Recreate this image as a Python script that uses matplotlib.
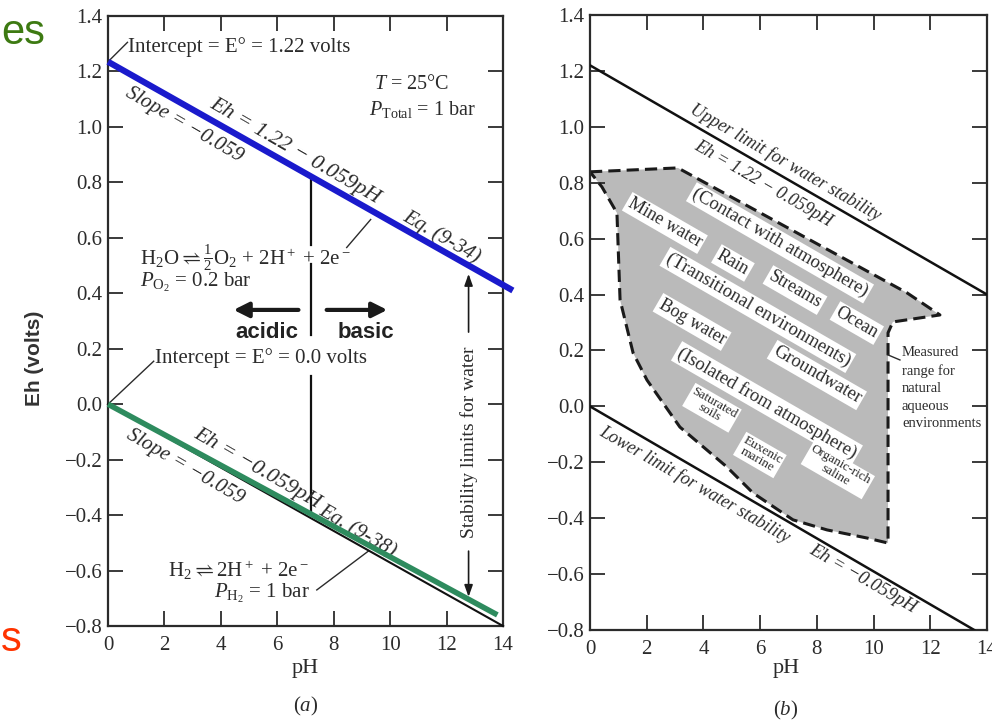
import matplotlib
matplotlib.use('Agg')
import matplotlib.pyplot as plt

plt.rcParams['font.family'] = 'Liberation Serif'
plt.rcParams['mathtext.fontset'] = 'custom'
plt.rcParams['mathtext.rm'] = 'Liberation Serif'
plt.rcParams['mathtext.it'] = 'Liberation Serif:italic'
plt.rcParams['mathtext.bf'] = 'Liberation Serif:bold'

ink = '#2b2b2b'

# ticks shared by both panels
ph_ticks = [0, 2, 4, 6, 8, 10, 12, 14]
eh_ticks = [-0.8, -0.6, -0.4, -0.2, 0.0, 0.2, 0.4, 0.6, 0.8, 1.0, 1.2, 1.4]
eh_labels = ['\u22120.8', '\u22120.6', '\u22120.4', '\u22120.2', '0.0', '0.2',
             '0.4', '0.6', '0.8', '1.0', '1.2', '1.4']

# panel (a): water stability lines
o2_ph = [0, 14.35]
o2_eh = [1.235, 0.41]
h2_ph = [0, 14]
h2_eh = [0.0, -0.80]
h2_green_ph = [0, 13.8]
h2_green_eh = [0.0, -0.76]
neutral_ph = 7.2
neutral_top = [0.81, 0.505, 0.10]
neutral_bot = [0.575, 0.25, -0.40]
stab_ph = 12.78

# panel (b): limits and measured natural range
upper_ph = [0, 14]
upper_eh = [1.22, 0.40]
lower_ph = [0, 13.55]
lower_eh = [0.0, -0.80]
nat_ph = [0.0, 3.10, 11.18, 12.34, 10.68, 10.51, 10.51, 9.77, 8.36, 7.16, 5.75,
          4.83, 3.17, 2.01, 1.52, 1.06, 0.95, 0.42, 0.0]
nat_eh = [0.839, 0.853, 0.406, 0.327, 0.302, 0.263, -0.489, -0.471, -0.442, -0.406,
          -0.310, -0.217, -0.074, 0.094, 0.191, 0.381, 0.692, 0.785, 0.839]

env_labels = ['(Contact with atmosphere)', 'Mine water', 'Rain', 'Streams', 'Ocean',
              '(Transitional environments)', 'Bog water', 'Groundwater',
              '(Isolated from atmosphere)', 'Saturated\nsoils', 'Euxenic\nmarine',
              'Organic-rich\nsaline']
env_ph = [6.70, 2.64, 5.04, 7.23, 9.41, 5.92, 3.60, 8.00, 6.24, 4.30, 5.99, 8.74]
env_eh = [0.585, 0.656, 0.513, 0.416, 0.298, 0.345, 0.302, 0.112, 0.012, -0.005, -0.174, -0.228]
env_size = [13.5, 13, 13, 13, 13, 13.5, 13, 13.5, 13.5, 9.5, 9.5, 9.5]

fig = plt.figure(figsize=(9.92, 7.23), dpi=100)
ax1 = fig.add_axes([108 / 992, 1 - 626 / 723, 395 / 992, 610 / 723])
ax2 = fig.add_axes([590 / 992, 1 - 630 / 723, 397 / 992, 615 / 723])

for ax in (ax1, ax2):
    ax.set_xlim(0, 14)
    ax.set_ylim(-0.8, 1.4)
    ax.set_xticks(ph_ticks)
    ax.set_xticklabels([str(t) for t in ph_ticks])
    ax.set_yticks(eh_ticks)
    ax.set_yticklabels(eh_labels)
    ax.tick_params(direction='in', length=11, width=1.3, top=True, right=True,
                   labelsize=15, colors=ink)
    ax.tick_params(axis='x', pad=7)
    ax.tick_params(axis='y', pad=4)
    for s in ax.spines.values():
        s.set_linewidth(1.6)
        s.set_color(ink)

# ---- panel (a)
ax1.plot(h2_ph, h2_eh, color='#111111', lw=1.5, clip_on=False, zorder=3)
ax1.plot(h2_green_ph, h2_green_eh, color='#2e8b5e', lw=4, clip_on=False, zorder=4,
         solid_capstyle='butt')
ax1.plot(o2_ph, o2_eh, color='#1a1acc', lw=4.5, clip_on=False, zorder=4,
         solid_capstyle='butt')
for top, bot in zip(neutral_top, neutral_bot):
    ax1.plot([neutral_ph, neutral_ph], [top, bot], color='#111111', lw=1.6)

arrow_kw = dict(arrowstyle='-|>,head_length=0.9,head_width=0.45', lw=3,
                color='#1a1a1a', shrinkA=0, shrinkB=0)
ax1.annotate('', xy=(4.45, 0.34), xytext=(6.75, 0.34), arrowprops=arrow_kw)
ax1.annotate('', xy=(9.9, 0.34), xytext=(7.75, 0.34), arrowprops=arrow_kw)
ax1.text(5.62, 0.258, 'acidic', family='Liberation Sans', weight='bold', fontsize=16,
         color='#222222', ha='center', va='center')
ax1.text(9.15, 0.258, 'basic', family='Liberation Sans', weight='bold', fontsize=16,
         color='#222222', ha='center', va='center')

lead = dict(color=ink, lw=1.0)
ax1.plot([0, 0.69], [1.235, 1.305], **lead)
ax1.text(0.72, 1.287, 'Intercept = E\u00b0 = 1.22 volts', fontsize=15, color=ink,
         ha='left', va='center')
ax1.text(9.42, 1.153, '$T$ = 25\u00b0C', fontsize=14.5, color=ink, ha='left', va='center')
ax1.text(9.24, 1.063, r'$P_{\mathrm{Total}}$ = 1 bar', fontsize=14.5, color=ink,
         ha='left', va='center')
ax1.text(2.71, 1.009, 'Slope = \u22120.059', style='italic', fontsize=15, color=ink,
         rotation=-30, rotation_mode='anchor', ha='center', va='center')
ax1.text(6.63, 0.911, 'Eh = 1.22 \u2212 0.059pH', style='italic', fontsize=16, color=ink,
         rotation=-30, rotation_mode='anchor', ha='center', va='center')
ax1.text(11.82, 0.604, 'Eq. (9-34)', style='italic', fontsize=15, color=ink,
         rotation=-30, rotation_mode='anchor', ha='center', va='center')
ax1.plot([9.31, 8.46], [0.666, 0.565], **lead)
ax1.text(1.12, 0.528, r'H$_2$O$\rightleftharpoons\frac{1}{2}$O$_2$ + 2H$^+$ + 2e$^-$',
         fontsize=15, color=ink, ha='left', va='center')
ax1.text(1.12, 0.438, r'$P_{\mathrm{O_2}}$ = 0.2 bar', fontsize=15, color=ink,
         ha='left', va='center')

ax1.plot([0, 1.62], [0.0, 0.155], **lead)
ax1.text(1.66, 0.1675, 'Intercept = E\u00b0 = 0.0 volts', fontsize=15, color=ink,
         ha='left', va='center')
ax1.text(5.30, -0.234, 'Eh = \u22120.059pH', style='italic', fontsize=16, color=ink,
         rotation=-30, rotation_mode='anchor', ha='center', va='center')
ax1.text(2.75, -0.226, 'Slope = \u22120.059', style='italic', fontsize=15, color=ink,
         rotation=-30, rotation_mode='anchor', ha='center', va='center')
ax1.text(8.85, -0.456, 'Eq. (9-38)', style='italic', fontsize=15, color=ink,
         rotation=-30, rotation_mode='anchor', ha='center', va='center')
ax1.plot([9.24, 7.40], [-0.529, -0.67], **lead)
ax1.text(2.11, -0.598, r'H$_2$$\rightleftharpoons$2H$^+$ + 2e$^-$', fontsize=15,
         color=ink, ha='left', va='center')
ax1.text(3.77, -0.681, r'$P_{\mathrm{H_2}}$ = 1 bar', fontsize=15, color=ink,
         ha='left', va='center')

ax1.text(stab_ph, -0.136, 'Stability limits for water', fontsize=14, color=ink,
         rotation=90, ha='center', va='center')
thin_arrow = dict(arrowstyle='-|>,head_length=0.7,head_width=0.25', lw=1.2,
                  color='#1a1a1a', shrinkA=0, shrinkB=0)
ax1.annotate('', xy=(stab_ph, 0.47), xytext=(stab_ph, 0.26), arrowprops=thin_arrow)
ax1.annotate('', xy=(stab_ph, -0.695), xytext=(stab_ph, -0.53), arrowprops=thin_arrow)

# ---- panel (b)
ax2.fill(nat_ph, nat_eh, facecolor='#bababa', edgecolor='none', zorder=1)
ax2.plot(nat_ph, nat_eh, color='#1a1a1a', lw=2.2, ls=(0, (4, 2)), zorder=2)
ax2.plot(upper_ph, upper_eh, color='#111111', lw=1.8, zorder=3)
ax2.plot(lower_ph, lower_eh, color='#111111', lw=1.8, zorder=3)

ax2.text(6.88, 0.871, 'Upper limit for water stability', style='italic', fontsize=13,
         color=ink, rotation=-30, rotation_mode='anchor', ha='center', va='center')
ax2.text(6.10, 0.795, 'Eh = 1.22 \u2212 0.059pH', style='italic', fontsize=13,
         color=ink, rotation=-30, rotation_mode='anchor', ha='center', va='center')
ax2.text(3.70, -0.278, 'Lower limit for water stability', style='italic', fontsize=13,
         color=ink, rotation=-30, rotation_mode='anchor', ha='center', va='center')
ax2.text(9.63, -0.618, 'Eh = \u22120.059pH', style='italic', fontsize=13.5,
         color=ink, rotation=-30, rotation_mode='anchor', ha='center', va='center')

for lab, x, y, fs in zip(env_labels, env_ph, env_eh, env_size):
    ax2.text(x, y, lab, fontsize=fs, color=ink, rotation=-30, rotation_mode='anchor',
             ha='center', va='center', linespacing=0.95, zorder=4,
             bbox=dict(boxstyle='square,pad=0.12', fc='white', ec='none'))

ax2.plot([10.51, 10.93], [0.184, 0.166], color=ink, lw=1.0)
ax2.text(11.0, 0.215, 'Measured\nrange for\nnatural\naqueous\nenvironments', fontsize=10.5,
         color=ink, ha='left', va='top', linespacing=1.45)

# axis titles
fig.text(305 / 992, 1 - 668 / 723, 'pH', fontsize=16, color=ink, ha='center', va='center')
fig.text(306 / 992, 1 - 706 / 723, '($a$)', fontsize=15, color=ink, ha='center', va='center')
fig.text(786 / 992, 1 - 668 / 723, 'pH', fontsize=16, color=ink, ha='center', va='center')
fig.text(786 / 992, 1 - 710 / 723, '($b$)', fontsize=15, color=ink, ha='center', va='center')
fig.text(35 / 992, 1 - 358 / 723, 'Eh (volts)', family='Liberation Sans', weight='bold',
         fontsize=15, color='#333333', rotation=90, ha='center', va='center')

# slide text peeking in at the left edge
fig.text(1 / 992, 1 - 33 / 723, 'es', family='Liberation Sans', fontsize=30,
         color='#3d7a12', ha='left', va='center')
fig.text(1 / 992, 1 - 640 / 723, 's', family='Liberation Sans', fontsize=30,
         color='#ff3300', ha='left', va='center')

fig.savefig('out.png', dpi=100)
